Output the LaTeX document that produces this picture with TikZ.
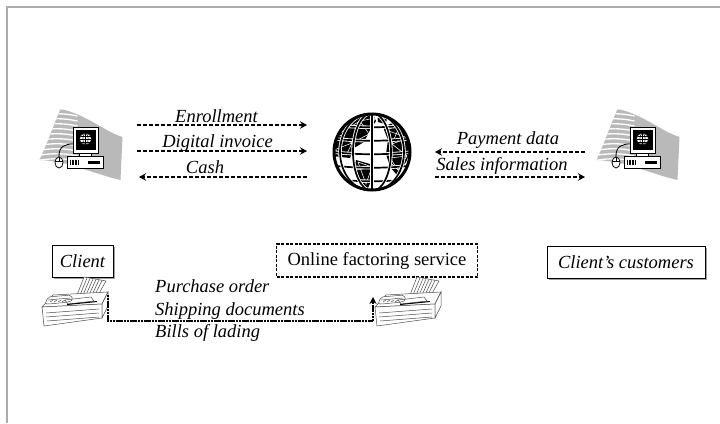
\documentclass[tikz,border=0pt]{standalone}
\usepackage{fontspec}
\setmainfont{Liberation Serif}
\usetikzlibrary{arrows.meta,shadows}

\tikzset{
  txt/.style={font=\fontsize{18.5}{22.5}\selectfont, inner sep=0pt},
  lbl/.style={txt, font=\fontsize{18.5}{22.5}\selectfont\itshape},
  flow/.style={line width=1.3pt, dash pattern=on 4pt off 2pt,
    -{Stealth[length=7pt,width=7.5pt,inset=2.5pt]}},
  faxflow/.style={line width=1.4pt, dash pattern=on 2.2pt off 0.6pt,
    -{Stealth[length=7pt,width=7pt,inset=2.5pt]}},
  namebox/.style={draw, line width=0.9pt, fill=white, inner sep=0pt,
    minimum height=32pt,
    drop shadow={shadow xshift=1.6pt, shadow yshift=-1.6pt, fill=gray!75, opacity=1}},
  hubbox/.style={draw, line width=1.4pt, dash pattern=on 3pt off 1.5pt,
    fill=white, inner sep=0pt, minimum height=33pt},
  faxline/.style={draw=black!70, line width=0.5pt},
  computer/.pic={
    % grey wave behind the workstation
    \fill[gray!55] (-25,-32) .. controls (0,-27) and (18,-10) .. (37,-4)
      -- (35,39) .. controls (12,34) and (-18,20) .. (-46,19)
      .. controls (-38,2) and (-32,-16) .. (-25,-32) -- cycle;
    \begin{scope}
      \clip (-25,-32) .. controls (0,-27) and (18,-10) .. (37,-4)
        -- (35,39) .. controls (12,34) and (-18,20) .. (-46,19)
        .. controls (-38,2) and (-32,-16) .. (-25,-32) -- cycle;
      \foreach \k in {0,...,11}
        \draw[white, line width=1.3pt]
          (-50,{-30+5*\k}) .. controls (-35,{-33+5*\k}) and (-22,{-33+5*\k}) .. (-8,{-30+5*\k});
    \end{scope}
    % mouse cable
    \draw[line width=0.8pt] (-26.5,16) .. controls (-27,5) and (-20,3) .. (-12.5,3);
    % monitor
    \draw[fill=white, line width=0.8pt] (-6,11) rectangle (6,15.5);
    \draw[fill=white, line width=0.8pt] (-12.5,-14) rectangle (12.5,12);
    \fill[black] (-10,-11.5) rectangle (10,8.5);
    \fill[white] (0,-2) circle (5.8pt);
    \draw[line width=0.5pt] (0,-7.8) -- (0,3.8) (-5.8,-2) -- (5.8,-2)
      (-5,-5) -- (5,-5) (-5,1) -- (5,1);
    \draw[line width=0.5pt] (0,-2) ellipse (2.6pt and 5.8pt);
    \draw[line width=0.5pt] (0,-2) circle (5.8pt);
    % system unit
    \draw[fill=white, line width=0.8pt] (-18,15.5) rectangle (18,27);
    \foreach \g in {-15,-13.5,...,-7}
      \draw[line width=0.5pt] (\g,18.5) -- (\g,24);
    \fill[black] (2,20.3) rectangle (14,22.5);
    % mouse
    \draw[fill=white, line width=0.8pt] (-26.5,21.5) ellipse (4pt and 5.5pt);
    \draw[line width=0.5pt] (-30.5,20) -- (-22.5,20) (-26.5,16) -- (-26.5,20);
  },
  fax/.pic={
    % paper tray
    \draw[faxline, fill=white] (2,-8) -- (9,-26) -- (31,-22) -- (22,-6) -- cycle;
    \foreach \s in {0,...,5}
      \draw[faxline] ({5+3*\s},-8) -- ({12+3*\s},{-25+0.5*\s});
    % top of the body
    \draw[faxline, fill=white] (-33,4) -- (-22,-8) -- (33,-11) -- (27,1) -- cycle;
    % front face
    \draw[faxline, fill=white] (-33,4) -- (27,1) -- (27,15) -- (-31,23) -- cycle;
    % right end
    \draw[faxline, fill=white] (27,1) -- (33,-11) -- (33,3) -- (27,15) -- cycle;
    % handset
    \draw[faxline, fill=white, rounded corners=2pt]
      (-30,1) -- (-27,-6) -- (-4,-8) -- (-2,-3) -- (-6,-1) -- (-26,1) -- cycle;
    \draw[faxline] (-27,-3) -- (-5,-5);
    % keypad and sheet on top
    \foreach \s in {0,...,3}
      \draw[faxline] ({-25+4*\s},-1) -- ({-22+4*\s},-3);
    \draw[faxline] (-10,-3) -- (16,-6) -- (19,-2) -- (-7,1) -- cycle;
    \draw[line width=1pt] (-8,1.5) -- (22,-1.5);
    % front slots
    \draw[faxline] (-29,10) -- (24,6) (-29,14) -- (24,10) (-28,18) -- (24,14);
  }
}

\begin{document}
\begin{tikzpicture}[x=1pt,y=-1pt]
\useasboundingbox (0,0) rectangle (720,423);

% page frame
\draw[gray!65, line width=2pt] (7,423) -- (7,7) -- (720,7);

% workstations
\pic (pcL) at (85.5,141) {computer};
\pic (pcR) at (642.5,141) {computer};

% globe
\node[circle, minimum size=78pt, inner sep=0pt] (globe) at (372,152) {};
\begin{scope}[shift={(globe.center)}]
  \fill[white] (0,0) circle (39pt);
  \begin{scope}
    \clip (0,0) circle (39pt);
    \fill[black] (-40,-14) -- (-30,-28) -- (-15,-37) -- (0,-40) -- (4,-31)
      -- (-2,-22) -- (-8,-10) -- (-18,-4) -- (-22,6) -- (-40,4) -- cycle;
    \fill[black] (5,-40) -- (17,-37) -- (13,-28) -- (6,-30) -- cycle;
    \fill[black] (11,-25) -- (25,-31) -- (40,-20) -- (40,-4) -- (34,10)
      -- (25,23) -- (18,15) -- (14,2) -- (16,-12) -- cycle;
    \fill[black] (-16,8) -- (-2,12) -- (2,22) -- (-4,36) -- (-12,31) -- (-18,18) -- cycle;
    \fill[black] (24,28) -- (33,24) -- (30,34) -- cycle;
    % white network over the land masses
    \draw[white, line width=0.55pt]
      (-34,-18) -- (-12,-31) -- (3,-34) -- (-3,-18) -- (-20,-9) -- (-34,-18)
      (-12,-31) -- (-20,-9) (-12,-31) -- (-3,-18) (-34,-18) -- (-24,-30)
      (-38,-2) -- (-20,-9) (-38,-2) -- (-25,2) -- (-20,-9)
      (8,-35) -- (15,-33) (3,-34) -- (8,-35)
      (14,-22) -- (28,-27) -- (36,-14) -- (20,-8) -- (14,-22) -- (36,-14)
      (20,-8) -- (35,4) -- (26,18) -- (18,6) -- (20,-8) (18,6) -- (35,4)
      (28,-27) -- (20,-8) (26,18) -- (20,12)
      (-14,10) -- (0,15) -- (-6,32) -- (-14,10) (-16,18) -- (0,15);
    % graticule
    \foreach \yy in {-27,-13.5,0,13.5,27} {
      \draw[white, line width=3.4pt] (-40,\yy) .. controls (-14,{\yy+3}) and (14,{\yy+3}) .. (40,\yy);
      \draw[black, line width=1.7pt] (-40,\yy) .. controls (-14,{\yy+3}) and (14,{\yy+3}) .. (40,\yy);
    }
    \foreach \rx in {19,32} {
      \draw[white, line width=3.4pt] (0,0) ellipse ({\rx*1pt} and 39pt);
      \draw[black, line width=1.7pt] (0,0) ellipse ({\rx*1pt} and 39pt);
    }
    \draw[white, line width=3.4pt] (0,-40) -- (0,40);
    \draw[black, line width=1.8pt] (0,-40) -- (0,40);
  \end{scope}
  \draw[line width=3pt] (0,0) circle (38pt);
\end{scope}

% flows between the client and the service
\coordinate (enA) at (137,125);  \coordinate (enB) at (307,125);
\coordinate (diA) at (137,151);  \coordinate (diB) at (307,151);
\coordinate (caA) at (307,177);  \coordinate (caB) at (139,177);
\draw[flow] (enA) -- (enB);
\draw[flow] (diA) -- (diB);
\draw[flow] (caA) -- (caB);
\node[lbl, anchor=base] (tEn) at (216.5,122) {Enrollment};
\node[lbl, anchor=base] (tDi) at (217.5,147.5) {Digital invoice};
\node[lbl, anchor=base] (tCa) at (205,173) {Cash};

% flows between the service and the customers
\coordinate (paA) at (585,152);  \coordinate (paB) at (435,152);
\coordinate (saA) at (435,177);  \coordinate (saB) at (585,177);
\draw[flow] (paA) -- (paB);
\draw[flow] (saA) -- (saB);
\node[lbl, anchor=base] (tPa) at (508,144) {Payment data};
\node[lbl, anchor=base] (tSa) at (502,170) {Sales information};

% role boxes
\node[namebox, lbl, minimum width=61pt] (client) at (82.5,261) {Client};
\node[hubbox, txt, minimum width=201pt] (service) at (377,260.5) {Online factoring service};
\node[namebox, lbl, minimum width=158pt] (customers) at (626,262) {Client’s customers};

% fax machines and the paper trail between them
\pic (faxL) at (75,303) {fax};
\pic (faxR) at (408,303) {fax};
\coordinate (faxOut) at (108,295);
\coordinate (rail) at (373,321);
\coordinate (faxIn) at (373,297);
\draw[faxflow] (faxOut) |- (rail) -- (faxIn);
\node[lbl, anchor=base west] (tPo) at (155,292) {Purchase order};
\node[lbl, anchor=base west] (tSh) at (155,315) {Shipping documents};
\node[lbl, anchor=base west] (tBi) at (155,337.5) {Bills of lading};
\end{tikzpicture}
\end{document}
